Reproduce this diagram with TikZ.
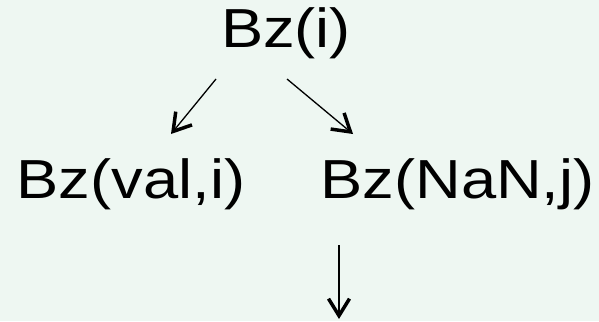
\documentclass[tikz,border=0pt]{standalone}
\usepackage{fontspec}
\setmainfont{Liberation Sans}
\usetikzlibrary{arrows.meta}
\definecolor{bg}{HTML}{EEF7F2}
\newcommand{\wide}[1]{\scalebox{1.15}[1]{#1}}
\begin{document}
\begin{tikzpicture}[x=1pt,y=-1pt,
  lbl/.style={inner sep=0pt,anchor=base,font=\fontsize{55}{60}\selectfont},
  conn/.style={line width=1.3pt,-{Straight Barb[line width=3.5pt,length=17pt,width=21pt]}}]
\fill[bg] (0,0) rectangle (599,321);
\useasboundingbox (0,0) rectangle (599,321);
\node[lbl] (top) at (286,48) {\wide{Bz(i)}};
\node[lbl] (left) at (131,198) {\wide{Bz(val,i)}};
\node[lbl] (right) at (457.5,198) {\wide{Bz(NaN,j)}};
\coordinate (a1) at (216,79);
\coordinate (a1e) at (171,134);
\coordinate (a2) at (287,79);
\coordinate (a2e) at (353,134);
\coordinate (a3) at (339,245);
\coordinate (a3e) at (339,319);
\draw[conn] (a1) -- (a1e);
\draw[conn] (a2) -- (a2e);
\draw[conn] (a3) -- (a3e);
\end{tikzpicture}
\end{document}
